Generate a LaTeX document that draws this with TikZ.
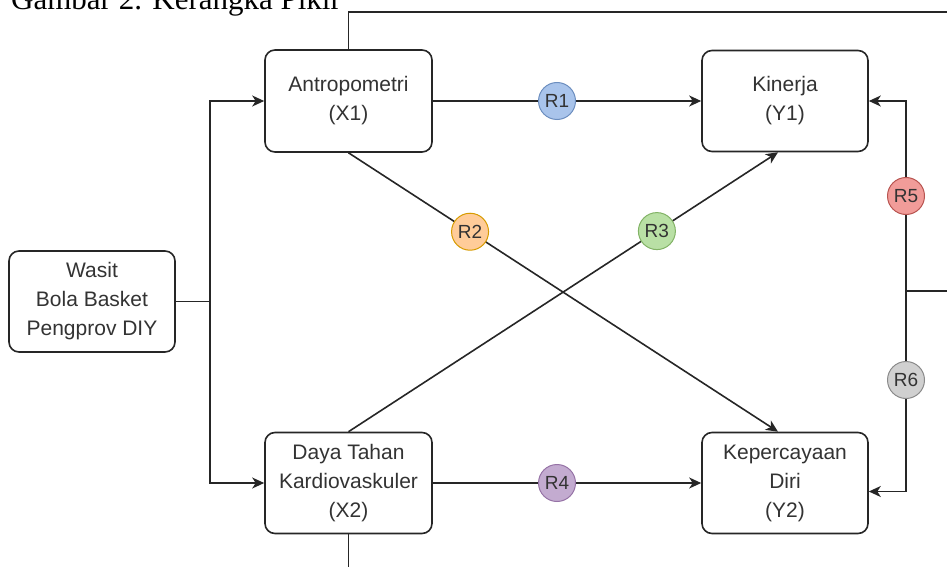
\documentclass[tikz,border=0pt]{standalone}
\usepackage{fontspec}
\setmainfont{Liberation Sans}
\newfontfamily\capfont{Liberation Serif}
\usetikzlibrary{arrows.meta,calc}
\definecolor{txt}{HTML}{333333}
\definecolor{c1}{HTML}{A9C4EB}\definecolor{s1}{HTML}{6C8EBF}
\definecolor{c2}{HTML}{FFCC99}\definecolor{s2}{HTML}{D79B00}
\definecolor{c3}{HTML}{B9E0A5}\definecolor{s3}{HTML}{82B366}
\definecolor{c4}{HTML}{C3ABD0}\definecolor{s4}{HTML}{9673A6}
\definecolor{c5}{HTML}{F19C99}\definecolor{s5}{HTML}{B85450}
\definecolor{c6}{HTML}{D0D0D0}\definecolor{s6}{HTML}{8A8A8A}
\tikzset{
  box/.style={draw=black!85, line width=1.6pt, rounded corners=10pt, fill=white,
    minimum width=166pt, minimum height=101pt, align=center, text=txt, inner sep=0pt,
    font=\fontsize{21}{29}\selectfont},
  rc/.style={circle, draw, line width=1pt, minimum size=37pt, inner sep=0pt,
    text=txt, font=\fontsize{19}{22}\selectfont},
  ln/.style={line width=1.6pt, draw=black!85},
  arr/.style={ln, -{Stealth[length=12pt,width=11pt,inset=3.5pt]}}
}
\begin{document}
\begin{tikzpicture}[x=1pt,y=1pt]
\useasboundingbox (0,0) rectangle (947,-567);
\clip (0,0) rectangle (947,-567);
\node[anchor=base west, inner sep=0pt, font=\capfont\fontsize{31}{36}\selectfont] (cap) at (11,-9.5) {Gambar 2. Kerangka Pikir};
% nodes
\node[box] (wasit) at (92,-301.5) {Wasit\\Bola Basket\\Pengprov DIY};
\node[box, minimum width=167pt, minimum height=102pt] (x1) at (348.5,-101) {Antropometri\\(X1)};
\node[box, minimum width=167pt] (x2) at (348.5,-483) {Daya Tahan\\Kardiovaskuler\\(X2)};
\node[box] (y1) at (785,-101) {Kinerja\\(Y1)};
\node[box] (y2) at (785,-483) {Kepercayaan\\Diri\\(Y2)};
% coordinates
\coordinate (j) at (210,-301.5);
\coordinate (rr) at (906,-291);
\coordinate (rend) at (947,-291);
\coordinate (topend) at (947,-12);
\coordinate (botend) at (348.5,-567);
\coordinate (y2n) at ($(y2.north)+(-7,0)$);
\coordinate (y1s) at ($(y1.south)+(-7,0)$);
\coordinate (y2e) at ($(y2.east)+(0,-8.5)$);
% connectors
\draw[ln] (wasit.east) -- (j);
\draw[arr] (j) |- (x1.west);
\draw[arr] (j) |- (x2.west);
\draw[arr] (x1.east) -- (y1.west);
\draw[arr] (x2.east) -- (y2.west);
\draw[arr] (x1.south) -- (y2n);
\draw[arr] (x2.north) -- (y1s);
\draw[arr] (rr) |- (y1.east);
\draw[arr] (rr) |- (y2e);
\draw[ln] (rr) -- (rend);
\draw[ln] (x1.north) |- (topend);
\draw[ln] (x2.south) -- (botend);
% circles
\node[rc, fill=c1, draw=s1] (r1) at (557,-101) {R1};
\node[rc, fill=c4, draw=s4] (r4) at (557,-483) {R4};
\path (x1.south) -- (y2n) node[rc, fill=c2, draw=s2, pos=0.283] (r2) {R2};
\path (x2.north) -- (y1s) node[rc, fill=c3, draw=s3, pos=0.718] (r3) {R3};
\node[rc, fill=c5, draw=s5] (r5) at (906,-196) {R5};
\node[rc, fill=c6, draw=s6] (r6) at (906,-380) {R6};
\end{tikzpicture}
\end{document}
